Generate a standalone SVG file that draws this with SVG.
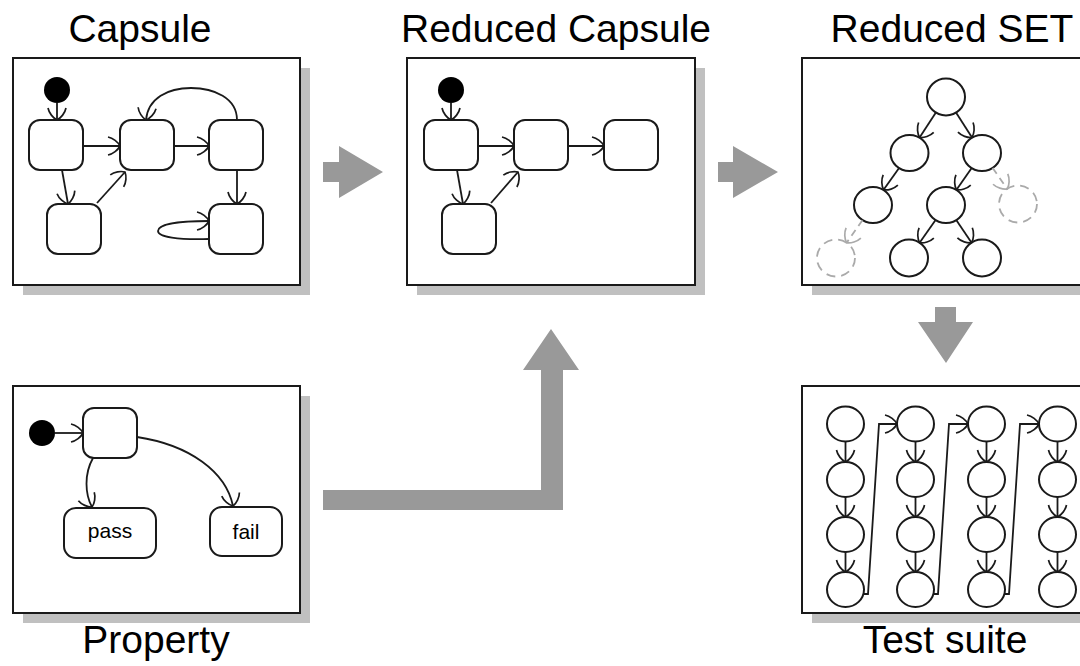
<svg xmlns="http://www.w3.org/2000/svg" width="1080" height="666" viewBox="0 0 1080 666">
<style>
.title{font-family:"Liberation Sans",Arial,sans-serif;font-size:39px;fill:#000;text-anchor:middle}
.lbl{font-family:"Liberation Sans",Arial,sans-serif;font-size:21px;fill:#000;text-anchor:middle}
.shadow{fill:#c0c0c0}
.frame{fill:#fff;stroke:#1a1a1a;stroke-width:2}
.st{fill:#fff;stroke:#1a1a1a;stroke-width:2}
.dot{fill:#000}
.e{fill:none;stroke:#1a1a1a;stroke-width:1.8;marker-end:url(#ah)}
.ed{fill:none;stroke:#aaa;stroke-width:1.8;stroke-dasharray:7 5;marker-end:url(#ahg)}
.cd{fill:none;stroke:#aaa;stroke-width:1.8;stroke-dasharray:9 6}
.big{fill:#999}
</style>
<defs>
<marker id="ah" viewBox="-14 -12 16 24" refX="0" refY="0" markerWidth="16" markerHeight="24" markerUnits="userSpaceOnUse" orient="auto">
<path d="M-12,-9 C-7,-8 -2,-4 0,0 C-2,4 -7,8 -12,9" fill="none" stroke="#1a1a1a" stroke-width="1.7"/>
</marker>
<marker id="ahg" viewBox="-14 -12 16 24" refX="0" refY="0" markerWidth="16" markerHeight="24" markerUnits="userSpaceOnUse" orient="auto">
<path d="M-12,-9 C-7,-8 -2,-4 0,0 C-2,4 -7,8 -12,9" fill="none" stroke="#aaa" stroke-width="1.7"/>
</marker>
</defs>
<rect width="1080" height="666" fill="#fff"/>

<!-- Titles -->
<text class="title" x="140" y="42">Capsule</text>
<text class="title" x="556" y="42">Reduced Capsule</text>
<text class="title" x="952" y="42">Reduced SET</text>
<text class="title" x="156" y="653">Property</text>
<text class="title" x="945" y="653">Test suite</text>

<!-- Big gray flow arrows -->
<g id="flow-arrows">
<polygon class="big" points="323,162 339,162 339,146 383,172 339,198 339,182 323,182"/>
<polygon class="big" points="718,162 733,162 733,146 778,172 733,198 733,182 718,182"/>
<polygon class="big" points="935,307 956,307 956,322 973,322 946,363 918,322 935,322"/>
<polygon class="big" points="323,490 541,490 541,370 523,370 551,329 579,370 563,370 563,510 323,510"/>
</g>

<!-- Capsule -->
<g id="capsule">
<rect class="shadow" x="23" y="68" width="287" height="227"/>
<rect class="frame" x="13" y="58" width="287" height="227"/>
<circle class="dot" cx="57" cy="90" r="13"/>
<rect class="st" x="29" y="120" width="54" height="50" rx="11"/>
<rect class="st" x="120" y="120" width="54" height="50" rx="11"/>
<rect class="st" x="209" y="120" width="54" height="50" rx="11"/>
<rect class="st" x="47" y="204" width="54" height="50" rx="11"/>
<rect class="st" x="209" y="204" width="54" height="50" rx="11"/>
<g id="capsule-edges">
<path class="e" d="M57,103 L57,120"/>
<path class="e" d="M83,146 L120,146"/>
<path class="e" d="M174,146 L209,146"/>
<path class="e" d="M237,120 C237,98 214,88 191,88 C168,88 148,98 146,120"/>
<path class="e" d="M62,170 L68,204"/>
<path class="e" d="M97,203 L125,172"/>
<path class="e" d="M237,170 L237,204"/>
<path class="e" d="M209,239 C178,240 158,237 158,231 C158,224 180,221 209,221"/>
</g>
</g>

<!-- Reduced Capsule -->
<g id="reduced-capsule">
<rect class="shadow" x="417" y="68" width="288" height="227"/>
<rect class="frame" x="407" y="58" width="288" height="227"/>
<circle class="dot" cx="451" cy="90" r="13"/>
<rect class="st" x="424" y="120" width="54" height="50" rx="11"/>
<rect class="st" x="514" y="120" width="54" height="50" rx="11"/>
<rect class="st" x="604" y="120" width="54" height="50" rx="11"/>
<rect class="st" x="442" y="204" width="54" height="50" rx="11"/>
<g id="reduced-capsule-edges">
<path class="e" d="M451,103 L451,120"/>
<path class="e" d="M478,146 L514,146"/>
<path class="e" d="M568,146 L604,146"/>
<path class="e" d="M457,170 L463,204"/>
<path class="e" d="M491,203 L518,172"/>
</g>
</g>

<!-- Reduced SET -->
<g id="reduced-set">
<rect class="shadow" x="812" y="68" width="288" height="227"/>
<rect class="frame" x="802" y="58" width="288" height="227"/>
<g fill="#fff" stroke="#1a1a1a" stroke-width="2">
<ellipse cx="946" cy="97" rx="19" ry="18.5"/>
<ellipse cx="909.5" cy="153" rx="19" ry="18"/>
<ellipse cx="982" cy="153" rx="19" ry="18"/>
<ellipse cx="873" cy="205" rx="19" ry="18"/>
<ellipse cx="946" cy="205" rx="19" ry="18"/>
<ellipse cx="909" cy="258" rx="19" ry="18.5"/>
<ellipse cx="982" cy="258" rx="19" ry="18.5"/>
</g>
<ellipse class="cd" cx="1018" cy="204" rx="19" ry="18.5"/>
<ellipse class="cd" cx="836" cy="258" rx="19" ry="18.5"/>
<g id="set-edges">
<path class="e" d="M935.9,112.5 L919.6,137.5"/>
<path class="e" d="M956,112.6 L972,137.4"/>
<path class="e" d="M898.9,168.2 L883.6,189.8"/>
<path class="e" d="M971.5,168.2 L956.5,189.8"/>
<path class="ed" d="M992.7,168.1 L1007.3,188.9"/>
<path class="ed" d="M862.4,220.2 L846.6,242.8"/>
<path class="e" d="M935.4,220.2 L919.6,242.8"/>
<path class="e" d="M956.4,220.3 L971.6,242.7"/>
</g>
</g>

<!-- Property -->
<g id="property">
<rect class="shadow" x="23" y="396" width="287" height="227"/>
<rect class="frame" x="13" y="386" width="287" height="227"/>
<circle class="dot" cx="42" cy="433" r="13"/>
<rect class="st" x="83" y="408" width="54" height="50" rx="11"/>
<rect class="st" x="64" y="508" width="92" height="50" rx="12"/>
<rect class="st" x="210" y="507" width="72" height="49" rx="12"/>
<text class="lbl" x="110" y="538">pass</text>
<text class="lbl" x="246" y="539">fail</text>
<g id="property-edges">
<path class="e" d="M55,433 L83,433"/>
<path class="e" d="M93,458 C84,474 85,494 92,507"/>
<path class="e" d="M137,437 C190,445 226,472 233,506"/>
</g>
</g>

<!-- Test suite -->
<g id="test-suite">
<rect class="shadow" x="812" y="396" width="288" height="227"/>
<rect class="frame" x="802" y="386" width="288" height="227"/>
<g fill="#fff" stroke="#1a1a1a" stroke-width="2">
<ellipse cx="845.5" cy="424" rx="18.5" ry="17.5"/>
<ellipse cx="845.5" cy="479.5" rx="18.5" ry="17.5"/>
<ellipse cx="845.5" cy="534.5" rx="18.5" ry="17.5"/>
<ellipse cx="845.5" cy="589.5" rx="18.5" ry="17.5"/>
<ellipse cx="915.5" cy="424" rx="18.5" ry="17.5"/>
<ellipse cx="915.5" cy="479.5" rx="18.5" ry="17.5"/>
<ellipse cx="915.5" cy="534.5" rx="18.5" ry="17.5"/>
<ellipse cx="915.5" cy="589.5" rx="18.5" ry="17.5"/>
<ellipse cx="986.5" cy="424" rx="18.5" ry="17.5"/>
<ellipse cx="986.5" cy="479.5" rx="18.5" ry="17.5"/>
<ellipse cx="986.5" cy="534.5" rx="18.5" ry="17.5"/>
<ellipse cx="986.5" cy="589.5" rx="18.5" ry="17.5"/>
<ellipse cx="1057.5" cy="424" rx="18.5" ry="17.5"/>
<ellipse cx="1057.5" cy="479.5" rx="18.5" ry="17.5"/>
<ellipse cx="1057.5" cy="534.5" rx="18.5" ry="17.5"/>
<ellipse cx="1057.5" cy="589.5" rx="18.5" ry="17.5"/>
</g>
<g id="test-edges">
<path class="e" d="M845.5,441.5 L845.5,462"/>
<path class="e" d="M845.5,497 L845.5,517"/>
<path class="e" d="M845.5,552 L845.5,572"/>
<path class="e" d="M915.5,441.5 L915.5,462"/>
<path class="e" d="M915.5,497 L915.5,517"/>
<path class="e" d="M915.5,552 L915.5,572"/>
<path class="e" d="M986.5,441.5 L986.5,462"/>
<path class="e" d="M986.5,497 L986.5,517"/>
<path class="e" d="M986.5,552 L986.5,572"/>
<path class="e" d="M1057.5,441.5 L1057.5,462"/>
<path class="e" d="M1057.5,497 L1057.5,517"/>
<path class="e" d="M1057.5,552 L1057.5,572"/>
<path class="e" d="M863,594 L868,594 L879,424 L897,424"/>
<path class="e" d="M933,594 L938,594 L949,424 L968,424"/>
<path class="e" d="M1004,594 L1009,594 L1020,424 L1039,424"/>
</g>
</g>
</svg>
